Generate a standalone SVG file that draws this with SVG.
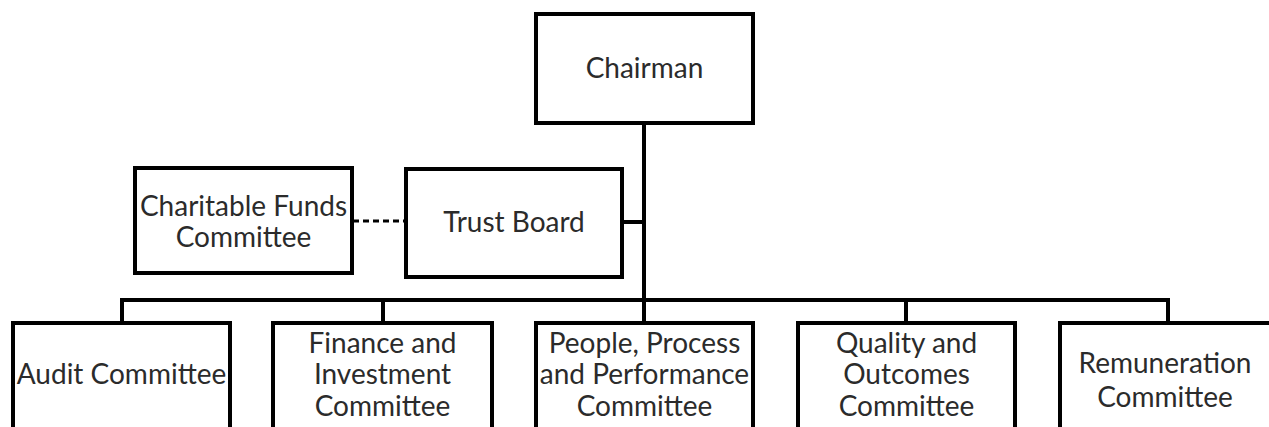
<svg xmlns="http://www.w3.org/2000/svg" width="1269" height="427" viewBox="0 0 1269 427">
  <style>
    .box { fill: #ffffff; stroke: #000000; stroke-width: 4; }
    .lbl { font-family: Lato, "Open Sans", "Liberation Sans", sans-serif; font-size: 28px; fill: #2b2b2b; text-anchor: middle; }
    .wire { fill: none; stroke: #000000; stroke-width: 4; }
    .dash { fill: none; stroke: #000000; stroke-width: 3; stroke-dasharray: 6 4; }
  </style>
  <rect width="1269" height="427" fill="#ffffff"/>

  <!-- reporting lines -->
  <g id="connectors">
    <line class="wire" x1="644" y1="123" x2="644" y2="302"/>
    <line class="wire" x1="622" y1="222" x2="644" y2="222"/>
    <line class="wire" x1="122" y1="300" x2="1168" y2="300"/>
    <line class="wire" x1="122" y1="298" x2="122" y2="323"/>
    <line class="wire" x1="383" y1="298" x2="383" y2="323"/>
    <line class="wire" x1="644" y1="298" x2="644" y2="323"/>
    <line class="wire" x1="906" y1="298" x2="906" y2="323"/>
    <line class="wire" x1="1168" y1="298" x2="1168" y2="323"/>
    <line class="dash" x1="353" y1="221" x2="405" y2="221"/>
  </g>

  <g id="chairman">
    <rect class="box" x="536" y="14" width="217" height="109"/>
    <text class="lbl" x="644.5" y="78">Chairman</text>
  </g>

  <g id="trust-board">
    <rect class="box" x="406" y="169" width="216" height="108"/>
    <text class="lbl" x="514" y="232">Trust Board</text>
  </g>

  <g id="charitable-funds">
    <rect class="box" x="135" y="168" width="217" height="105"/>
    <text class="lbl" x="243.5" y="216">Charitable Funds</text>
    <text class="lbl" x="243.5" y="247">Committee</text>
  </g>

  <g id="audit">
    <rect class="box" x="13" y="323" width="217" height="120"/>
    <text class="lbl" x="121.5" y="384">Audit Committee</text>
  </g>

  <g id="finance">
    <rect class="box" x="273" y="323" width="219" height="120"/>
    <text class="lbl" x="382.5" y="353">Finance and</text>
    <text class="lbl" x="382.5" y="384">Investment</text>
    <text class="lbl" x="382.5" y="416">Committee</text>
  </g>

  <g id="people">
    <rect class="box" x="536" y="323" width="217" height="120"/>
    <text class="lbl" x="644.5" y="353">People, Process</text>
    <text class="lbl" x="644.5" y="384">and Performance</text>
    <text class="lbl" x="644.5" y="416">Committee</text>
  </g>

  <g id="quality">
    <rect class="box" x="798" y="323" width="217" height="120"/>
    <text class="lbl" x="906.5" y="353">Quality and</text>
    <text class="lbl" x="906.5" y="384">Outcomes</text>
    <text class="lbl" x="906.5" y="416">Committee</text>
  </g>

  <g id="remuneration">
    <rect class="box" x="1060" y="323" width="215" height="120"/>
    <text class="lbl" x="1165" y="373">Remuneration</text>
    <text class="lbl" x="1165" y="407">Committee</text>
  </g>
</svg>
